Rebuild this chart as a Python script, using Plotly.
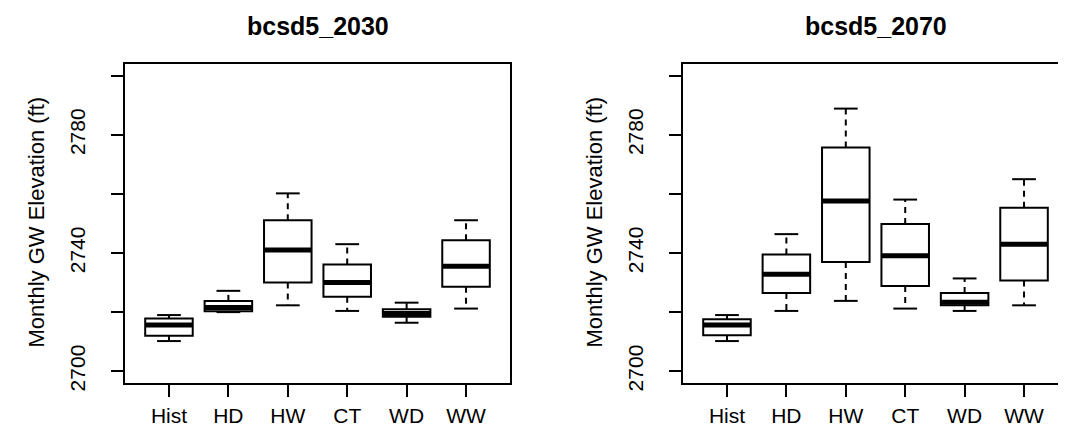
import plotly.graph_objects as go

categories = ["Hist", "HD", "HW", "CT", "WD", "WW"]

# bcsd5_2030
low_2030 = [2710.2, 2720.0, 2722.3, 2720.4, 2716.4, 2721.2]
q1_2030 = [2712.0, 2720.3, 2730.0, 2725.2, 2718.4, 2728.6]
med_2030 = [2715.6, 2721.6, 2741.0, 2730.0, 2719.5, 2735.5]
q3_2030 = [2717.8, 2723.8, 2751.1, 2736.1, 2721.0, 2744.3]
high_2030 = [2719.0, 2727.2, 2760.2, 2743.0, 2723.2, 2751.1]

# bcsd5_2070
low_2070 = [2710.2, 2720.4, 2723.8, 2721.2, 2720.4, 2722.3]
q1_2070 = [2712.2, 2726.5, 2737.0, 2728.8, 2722.3, 2730.7]
med_2070 = [2715.6, 2732.8, 2757.6, 2739.1, 2723.3, 2743.0]
q3_2070 = [2717.6, 2739.5, 2775.7, 2749.8, 2726.5, 2755.3]
high_2070 = [2719.0, 2746.4, 2788.9, 2758.1, 2731.4, 2765.0]

titles = ["bcsd5_2030", "bcsd5_2070"]
y_tickvals = [2700, 2720, 2740, 2760, 2780, 2800]
y_ticktext = ["2700", "", "2740", "", "2780", ""]

FONT = "Liberation Sans, Arial, sans-serif"
W, H = 1066, 426

panels = [
    dict(low=low_2030, q1=q1_2030, med=med_2030, q3=q3_2030, high=high_2030,
         x0=117, x1=502, xa="x", ya="y"),
    dict(low=low_2070, q1=q1_2070, med=med_2070, q3=q3_2070, high=high_2070,
         x0=675, x1=1060, xa="x2", ya="y2"),
]

fig = go.Figure()
pos = list(range(1, len(categories) + 1))

for p in panels:
    # boxes (whiskers suppressed; drawn dashed below)
    fig.add_trace(go.Box(
        x=pos, q1=p["q1"], median=p["med"], q3=p["q3"],
        lowerfence=p["q1"], upperfence=p["q3"],
        width=0.8, whiskerwidth=0, boxpoints=False,
        fillcolor="white", line=dict(color="black", width=2),
        xaxis=p["xa"], yaxis=p["ya"], showlegend=False, hoverinfo="skip"))

for p in panels:
    wx, wy, sx, sy, mx, my = [], [], [], [], [], []
    for i, xi in enumerate(pos):
        wx += [xi, xi, None, xi, xi, None]
        wy += [p["q3"][i], p["high"][i], None, p["q1"][i], p["low"][i], None]
        sx += [xi - 0.2, xi + 0.2, None, xi - 0.2, xi + 0.2, None]
        sy += [p["high"][i], p["high"][i], None, p["low"][i], p["low"][i], None]
        mx += [xi - 0.4, xi + 0.4, None]
        my += [p["med"][i], p["med"][i], None]
    fig.add_trace(go.Scatter(x=wx, y=wy, mode="lines",
                             line=dict(color="black", width=2, dash="6px,5px"),
                             xaxis=p["xa"], yaxis=p["ya"], showlegend=False, hoverinfo="skip"))
    fig.add_trace(go.Scatter(x=sx, y=sy, mode="lines",
                             line=dict(color="black", width=2),
                             xaxis=p["xa"], yaxis=p["ya"], showlegend=False, hoverinfo="skip"))
    fig.add_trace(go.Scatter(x=mx, y=my, mode="lines",
                             line=dict(color="black", width=5),
                             xaxis=p["xa"], yaxis=p["ya"], showlegend=False, hoverinfo="skip"))

y_dom = [1 - 375 / H, 1 - 56 / H]

layout = dict(
    width=W, height=H,
    margin=dict(l=0, r=0, t=0, b=0),
    paper_bgcolor="white", plot_bgcolor="white",
    font=dict(family=FONT, color="black"),
    showlegend=False,
)

for k, p in enumerate(panels):
    sfx = "" if k == 0 else "2"
    layout["xaxis" + sfx] = dict(
        domain=[p["x0"] / W, p["x1"] / W],
        range=[0.26, 6.74],
        tickmode="array", tickvals=pos, ticktext=categories,
        ticks="outside", ticklen=12, tickwidth=2, tickcolor="black",
        showline=True, linecolor="black", linewidth=2, mirror=True,
        showgrid=False, zeroline=False,
        tickfont=dict(size=21, family=FONT, color="black"),
        ticklabelstandoff=1,
        anchor="y" + sfx, automargin=False, fixedrange=True,
    )
    layout["yaxis" + sfx] = dict(
        domain=y_dom,
        range=[2696, 2804],
        tickmode="array", tickvals=y_tickvals, ticktext=y_ticktext,
        ticks="outside", ticklen=12, tickwidth=2, tickcolor="black",
        showline=True, linecolor="black", linewidth=2, mirror=True,
        showgrid=False, zeroline=False,
        tickangle=-90,
        tickfont=dict(size=21, family=FONT, color="black"),
        ticklabelstandoff=18,
        anchor="x" + sfx, automargin=False, fixedrange=True,
    )

fig.update_layout(**layout)

annotations = []
for k, p in enumerate(panels):
    cx = (p["x0"] + p["x1"]) / 2
    annotations.append(dict(
        text="<b>" + titles[k] + "</b>", x=cx / W, y=1 - 2 / H,
        xref="paper", yref="paper", showarrow=False,
        xanchor="center", yanchor="top",
        font=dict(size=25, family=FONT, color="black")))
    annotations.append(dict(
        text="Monthly GW Elevation (ft)", x=(p["x0"] - 89.5) / W, y=1 - 214 / H,
        xref="paper", yref="paper", showarrow=False, textangle=-90,
        xanchor="center", yanchor="middle",
        font=dict(size=22, family=FONT, color="black")))
fig.update_layout(annotations=annotations)

fig.write_html("out.html")
